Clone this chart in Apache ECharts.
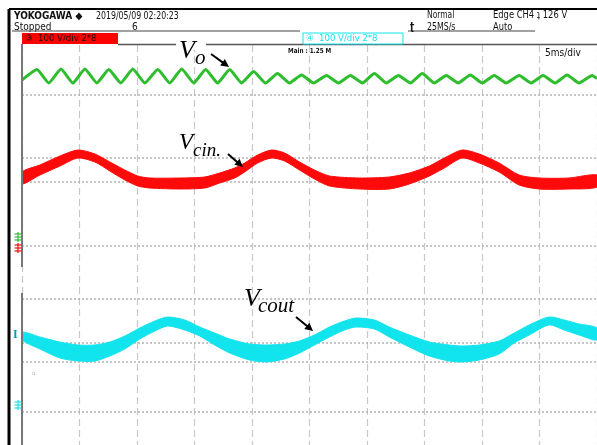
<!DOCTYPE html>
<html>
<head>
<meta charset="utf-8">
<script src="https://cdn.jsdelivr.net/npm/echarts/dist/echarts.min.js"></script>
<style>
  html, body { margin: 0; padding: 0; background: #fff; }
  #chart { width: 597px; height: 445px; }
</style>
</head>
<body>
<div id="chart"></div>
<script>
// Time base: 5 ms/div over 10 divisions; vertical position in screen divisions (0..8).

// Vo ripple (CH2), vertices of the trace
const voTime = [0, 1.30, 2.34, 3.39, 4.43, 5.47, 6.51, 7.55, 8.59, 9.64, 10.68, 11.81, 12.85,
  13.89, 14.93, 15.97, 17.01, 18.06, 19.10, 20.14, 21.18, 22.22, 23.26, 24.31, 25.35,
  26.48, 27.52, 28.56, 29.60, 30.64, 31.68, 32.73, 33.77, 34.81, 35.85, 36.89, 37.93,
  38.98, 40.02, 41.06, 42.10, 43.23, 44.27, 45.31, 46.35, 47.40, 48.44, 49.57, 50];
const voLevel = [7.30, 7.51, 7.24, 7.52, 7.24, 7.52, 7.24, 7.51, 7.24, 7.52, 7.24, 7.51, 7.24,
  7.52, 7.24, 7.51, 7.24, 7.51, 7.24, 7.47, 7.24, 7.43, 7.24, 7.40, 7.24,
  7.39, 7.24, 7.39, 7.24, 7.43, 7.24, 7.39, 7.24, 7.43, 7.24, 7.39, 7.24,
  7.40, 7.24, 7.39, 7.24, 7.39, 7.24, 7.39, 7.24, 7.40, 7.24, 7.39, 7.33];

// Vcin envelope (upper / lower edge of the trace)
const cinTime = [0, 1.56, 3.30, 4.86, 6.34, 7.64, 8.94, 10.07, 11.11, 13.72, 15.89, 17.19,
  18.49, 19.36, 20.49, 21.70, 22.83, 24.13, 25.43, 26.74, 29.34, 31.94, 33.68, 35.42,
  36.72, 38.28, 39.76, 41.49, 43.23, 44.97, 47.57, 50];
const cinUpper = [5.46, 5.60, 5.78, 5.90, 5.82, 5.66, 5.50, 5.38, 5.34, 5.34, 5.36, 5.44,
  5.54, 5.64, 5.80, 5.90, 5.84, 5.66, 5.50, 5.38, 5.34, 5.36, 5.44, 5.58,
  5.74, 5.90, 5.82, 5.64, 5.40, 5.34, 5.34, 5.40];
const cinLower = [5.22, 5.40, 5.58, 5.74, 5.66, 5.48, 5.30, 5.18, 5.14, 5.12, 5.14, 5.24,
  5.34, 5.46, 5.64, 5.74, 5.68, 5.50, 5.32, 5.18, 5.12, 5.12, 5.22, 5.38,
  5.54, 5.74, 5.64, 5.46, 5.20, 5.12, 5.12, 5.16];

// Vcout envelope
const coutTime = [0, 1.56, 3.30, 4.86, 6.34, 7.64, 8.94, 10.24, 11.55, 12.67, 14.15, 15.45,
  16.75, 18.06, 19.79, 21.27, 22.83, 24.13, 25.43, 26.74, 28.04, 29.08, 30.64, 31.94,
  33.68, 35.42, 37.15, 38.28, 39.76, 41.49, 42.80, 44.10, 45.83, 47.14, 48.44, 50];
const coutUpper = [2.26, 2.16, 2.06, 2.00, 2.00, 2.06, 2.18, 2.34, 2.48, 2.56, 2.50, 2.36,
  2.24, 2.12, 2.02, 2.00, 2.02, 2.08, 2.20, 2.36, 2.48, 2.54, 2.50, 2.36,
  2.20, 2.06, 2.00, 1.98, 2.00, 2.08, 2.24, 2.40, 2.56, 2.50, 2.42, 2.34];
const coutLower = [2.10, 1.92, 1.74, 1.68, 1.68, 1.78, 1.92, 2.12, 2.28, 2.38, 2.30, 2.18,
  2.00, 1.84, 1.70, 1.66, 1.72, 1.84, 2.00, 2.16, 2.30, 2.36, 2.32, 2.16,
  1.96, 1.78, 1.68, 1.66, 1.70, 1.82, 2.04, 2.20, 2.40, 2.30, 2.20, 2.10];

// Horizontal graticule levels
const hGridLevels = [7.00, 5.74, 5.26, 3.98, 2.92, 2.04, 1.66, 0.66];

const RED = '#ff0a0a';
const CYAN = '#12e4ee';
const GREEN = '#2dbd2d';

const pairs = (xs, ys) => xs.map((t, i) => [t, ys[i]]);

const HEAD_FONT = '"Liberation Sans Narrow","DejaVu Sans Condensed","Liberation Sans",sans-serif';
const SERIF = '"Liberation Serif","DejaVu Serif",serif';

// Text placed at (x, y); sx narrows it horizontally around its left edge.
function txt(x, y, text, o) {
  o = o || {};
  return {
    type: 'text', z: 100, silent: true,
    x: x, y: y, scaleX: o.sx || 1,
    style: {
      x: 0, y: 0, text: text,
      fill: o.fill || '#111',
      fontSize: o.size || 10,
      fontWeight: o.weight || 'normal',
      fontStyle: o.style || 'normal',
      fontFamily: o.family || HEAD_FONT,
      align: o.align || 'left',
      verticalAlign: 'middle'
    }
  };
}
function seg(x1, y1, x2, y2, color, w, dash) {
  return {
    type: 'line', z: 100, silent: true,
    shape: { x1: x1, y1: y1, x2: x2, y2: y2 },
    style: { stroke: color, lineWidth: w, lineDash: dash || null }
  };
}
function arrow(x1, y1, x2, y2) {
  const dx = x2 - x1, dy = y2 - y1, L = Math.hypot(dx, dy);
  const ux = dx / L, uy = dy / L, hl = 8, hw = 4;
  const bx = x2 - ux * hl, by = y2 - uy * hl;
  return [
    seg(x1, y1, bx + ux, by + uy, '#000', 2),
    { type: 'polygon', z: 101, silent: true,
      shape: { points: [[x2, y2], [bx - uy * hw, by + ux * hw], [bx + uy * hw, by - ux * hw]] },
      style: { fill: '#000' } }
  ];
}
function groundMark(x, y, color) {
  return [
    seg(x - 3.5, y - 3, x + 3.5, y - 3, color, 1.2),
    seg(x - 3.5, y, x + 3.5, y, color, 1.2),
    seg(x - 3.5, y + 3, x + 3.5, y + 3, color, 1.2),
    seg(x, y - 5, x, y + 5, color, 1.2)
  ];
}

const graphics = [
  // outer frame
  seg(9, 9, 597, 9, '#000', 2),
  seg(9, 9, 9, 445, '#000', 3),
  // header
  txt(14, 16, 'YOKOGAWA \u25C6', { weight: 'bold', size: 10 }),
  txt(96, 16, '2019/05/09 02:20:23', { size: 10, sx: 0.87 }),
  txt(14, 27, 'Stopped', { size: 10 }),
  txt(132, 27, '6', { size: 10 }),
  seg(12, 31, 300, 31, '#444', 1),
  seg(408, 31, 535, 31, '#444', 1),
  txt(427, 15, 'Normal', { size: 10, sx: 0.84 }),
  txt(427, 27, '25MS/s', { size: 10, sx: 0.87 }),
  txt(410, 27, '\u0288', { size: 10, weight: 'bold' }),
  txt(493, 15, 'Edge CH4 \u0287 126 V', { size: 10, sx: 0.93 }),
  txt(493, 27, 'Auto', { size: 10, sx: 0.92 }),
  // channel boxes
  { type: 'rect', z: 100, silent: true, shape: { x: 22, y: 33, width: 96, height: 11 }, style: { fill: '#ff0000' } },
  txt(25, 38.5, '\u2462  100 V/div 2*8', { size: 9.5, fill: '#111' }),
  // plot border lines
  seg(118, 44.5, 597, 44.5, '#555', 1.5),
  { type: 'rect', z: 100, silent: true, shape: { x: 303, y: 33, width: 100, height: 11 }, style: { fill: '#fff', stroke: CYAN, lineWidth: 1 } },
  txt(306, 38.5, '\u2463  100 V/div 2*8', { size: 9.5, fill: CYAN }),
  seg(22, 44, 22, 267, '#777', 2),
  seg(22, 293, 22, 445, '#777', 2),
  txt(288, 51, 'Main : 1.25 M', { size: 7, weight: 'bold', sx: 0.9 }),
  txt(545, 53, '5ms/div', { size: 10 }),
  // channel markers
  ...groundMark(18, 237, GREEN),
  ...groundMark(18, 248, RED),
  ...groundMark(18, 405, CYAN),
  txt(13, 335, 'I', { size: 12, weight: 'bold', family: SERIF, fill: '#0a9aa6' }),
  txt(32, 373, '\u03B1', { size: 6, fill: '#bbb' }),
  // trace labels
  { type: 'rect', z: 100, silent: true, shape: { x: 176, y: 38, width: 30, height: 12 }, style: { fill: '#fff' } },
  txt(179, 51, 'V', { size: 26, style: 'italic', family: SERIF, fill: '#000' }),
  txt(195, 58, 'o', { size: 21, style: 'italic', family: SERIF, fill: '#000' }),
  ...arrow(211, 54, 229, 67),
  txt(179, 143, 'V', { size: 23, style: 'italic', family: SERIF, fill: '#000' }),
  txt(193, 151, 'cin.', { size: 19, style: 'italic', family: SERIF, fill: '#000' }),
  ...arrow(228, 154, 243, 167),
  txt(244, 299, 'V', { size: 26, style: 'italic', family: SERIF, fill: '#000' }),
  txt(258, 306, 'cout', { size: 21, style: 'italic', family: SERIF, fill: '#000' }),
  ...arrow(296, 317, 313, 331)
];

// A thick persistence trace: the area between the upper and lower envelope,
// projected through the cartesian axes.
function band(name, time, upper, lower, color) {
  return {
    name: name, type: 'custom', silent: true, clip: true,
    data: [0],
    renderItem: function (params, api) {
      const top = time.map((t, i) => api.coord([t, upper[i]]));
      const bot = time.map((t, i) => api.coord([t, lower[i]])).reverse();
      return {
        type: 'polygon',
        shape: { points: top.concat(bot), smooth: 0.25 },
        style: { fill: color, stroke: color, lineWidth: 1 }
      };
    }
  };
}

const chart = echarts.init(document.getElementById('chart'), null, { renderer: 'canvas' });
chart.setOption({
  animation: false,
  backgroundColor: '#fff',
  grid: { left: 22, top: 45, width: 576, height: 400, containLabel: false },
  xAxis: {
    type: 'value', min: 0, max: 50, interval: 5,
    axisLine: { show: false }, axisTick: { show: false }, axisLabel: { show: false },
    splitLine: { show: true, lineStyle: { color: '#c8c8c8', width: 1.2, type: [7, 4] } }
  },
  yAxis: {
    type: 'value', min: 0, max: 8,
    axisLine: { show: false }, axisTick: { show: false }, axisLabel: { show: false },
    splitLine: { show: false }
  },
  series: [
    {
      name: 'Vo', type: 'line', symbol: 'none', smooth: 0.15, silent: true,
      data: pairs(voTime, voLevel),
      lineStyle: { color: GREEN, width: 3 },
      markLine: {
        z: 1, silent: true, symbol: ['none', 'none'], label: { show: false },
        lineStyle: { color: '#b2b2b2', width: 1.5, type: [2, 2] },
        data: hGridLevels.map(v => ({ yAxis: v }))
      }
    },
    band('Vcin', cinTime, cinUpper, cinLower, RED),
    band('Vcout', coutTime, coutUpper, coutLower, CYAN)
  ],
  graphic: graphics
});
</script>
</body>
</html>
